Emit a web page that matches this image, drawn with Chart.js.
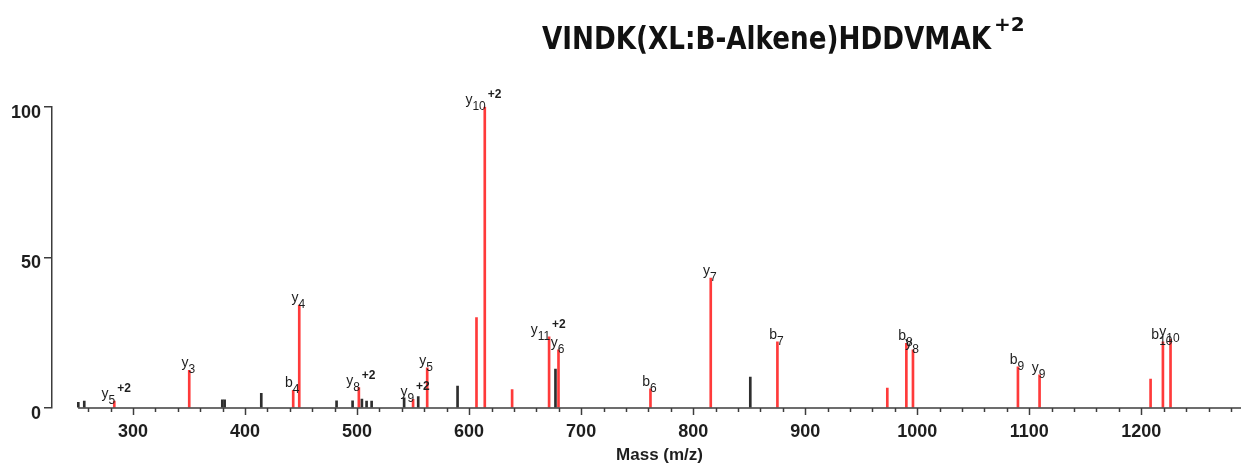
<!DOCTYPE html>
<html>
<head>
<meta charset="utf-8">
<script src="https://cdn.jsdelivr.net/npm/chart.js@4.4.1/dist/chart.umd.min.js"></script>
<style>
  html, body { margin: 0; padding: 0; background: #fff; }
  #wrap { width: 1241px; height: 464px; }
</style>
</head>
<body>
<div id="wrap"><canvas id="msChart" width="1241" height="464"></canvas></div>
<script>
// annotated fragment ions (red)
const ionMz        = [283.3, 350.2, 443.0, 448.4, 501.6, 550.0, 562.6, 606.6, 614.0, 638.4, 671.4, 679.8, 761.9, 815.7, 875.2, 973.3, 990.3, 996.2, 1089.9, 1109.2, 1208.3, 1219.3, 1226.1];
const ionIntensity = [2.3, 12.5, 5.9, 34.2, 6.8, 2.9, 13.3, 30.0, 100, 6.1, 23.6, 19.3, 6.4, 43.1, 22.0, 6.6, 21.5, 19.3, 13.7, 11.0, 9.6, 22.0, 22.8];
const ionType      = ['y', 'y', 'b', 'y', 'y', 'y', 'y', '', 'y', '', 'y', 'y', 'b', 'y', 'b', '', 'b', 'y', 'b', 'y', '', 'b', 'y'];
const ionNumber    = [5, 3, 4, 4, 8, 9, 5, 0, 10, 0, 11, 6, 6, 7, 7, 0, 8, 8, 9, 9, 0, 10, 10];
const ionCharge    = ['+2', '', '', '', '+2', '+2', '', '', '+2', '', '+2', '', '', '', '', '', '', '', '', '', '', '', ''];

// unassigned peaks (dark)
const otherMz        = [251.2, 256.5, 379.7, 381.8, 414.5, 481.7, 496.0, 504.3, 508.5, 513.0, 542.0, 554.6, 589.7, 677.1, 851.0];
const otherIntensity = [1.9, 2.3, 2.7, 2.7, 4.9, 2.4, 2.4, 3.0, 2.3, 2.3, 3.4, 3.8, 7.3, 12.9, 10.3];

// axes
const xTickLabels = [300, 400, 500, 600, 700, 800, 900, 1000, 1100, 1200];
const yTickLabels = [0, 50, 100];
const xAxisStart = 251;
const xMin = 227.7, xMax = 1289;
const xAxisTitle = 'Mass (m/z)';
const peptideTitle = 'VINDK(XL:B-Alkene)HDDVMAK';
const precursorCharge = '+2';

const RED = '#ff3a3a';
const DARK = '#2e2e2e';
const AXIS = '#3c3c3c';
const TEXT = '#1e1e1e';

// titel di atas
const titlePlugin = {
  id: 'peptideTitle',
  afterDraw(chart) {
    const ctx = chart.ctx;
    ctx.save();
    ctx.fillStyle = '#111';
    ctx.textBaseline = 'alphabetic';
    ctx.font = 'bold 32px "DejaVu Sans"';
    const w = ctx.measureText(peptideTitle).width;
    ctx.translate(542, 49);
    ctx.scale(449 / w, 1);
    ctx.fillText(peptideTitle, 0, 0);
    ctx.restore();
    ctx.save();
    ctx.fillStyle = '#111';
    ctx.font = 'bold 20px "DejaVu Sans"';
    ctx.fillText(precursorCharge, 994, 31);
    ctx.restore();
  }
};

// garis sumbu x, tick-nya, dan judul sumbu
const xAxisPlugin = {
  id: 'xAxisLine',
  afterDraw(chart) {
    const ctx = chart.ctx;
    const xs = chart.scales.x;
    const y0 = chart.chartArea.bottom;
    const xStart = xs.getPixelForValue(xAxisStart);
    ctx.save();
    ctx.strokeStyle = AXIS;
    ctx.lineWidth = 1.5;
    ctx.beginPath();
    ctx.moveTo(xStart, y0);
    ctx.lineTo(chart.chartArea.right, y0);
    ctx.stroke();
    xs.ticks.forEach(t => {
      const px = Math.round(xs.getPixelForValue(t.value)) + 0.5;
      const len = xTickLabels.includes(t.value) ? 7 : 4;
      ctx.beginPath();
      ctx.moveTo(px, y0);
      ctx.lineTo(px, y0 + len);
      ctx.stroke();
    });
    ctx.fillStyle = TEXT;
    ctx.font = 'bold 17px "Liberation Sans", Arial';
    ctx.textAlign = 'center';
    ctx.textBaseline = 'alphabetic';
    ctx.fillText(xAxisTitle, (xStart + chart.chartArea.right) / 2, 460);
    ctx.restore();
  }
};

// label ion (y10, b7, ...)
const peakLabelPlugin = {
  id: 'peakLabels',
  afterDatasetsDraw(chart) {
    const ctx = chart.ctx;
    const meta = chart.getDatasetMeta(0);
    ctx.save();
    ctx.fillStyle = TEXT;
    ctx.textBaseline = 'alphabetic';
    ctx.textAlign = 'left';
    meta.data.forEach((bar, i) => {
      const type = ionType[i];
      if (!type) return;
      const num = String(ionNumber[i]);
      const chg = ionCharge[i];
      const x = bar.x, top = bar.y;
      ctx.font = '14px "Liberation Sans", Arial';
      const wL = ctx.measureText(type).width;
      ctx.font = '12px "Liberation Sans", Arial';
      const wN = ctx.measureText(num).width;
      const w = wL + wN;
      const left = chg ? x + 1 - w : x - 1 - w / 2;
      ctx.font = '14px "Liberation Sans", Arial';
      ctx.fillText(type, left, top - 3);
      ctx.font = '12px "Liberation Sans", Arial';
      ctx.fillText(num, left + wL, top + 3);
      if (chg) {
        ctx.font = 'bold 12px "Liberation Sans", Arial';
        ctx.fillText(chg, x + 3, top - 9);
      }
    });
    ctx.restore();
  }
};

const ctx = document.getElementById('msChart').getContext('2d');
new Chart(ctx, {
  type: 'bar',
  data: {
    datasets: [
      {
        label: 'matched',
        data: ionMz.map((m, i) => ({ x: m, y: ionIntensity[i] })),
        backgroundColor: RED,
        barThickness: 2,
        grouped: false
      },
      {
        label: 'other',
        data: otherMz.map((m, i) => ({ x: m, y: otherIntensity[i] })),
        backgroundColor: DARK,
        barThickness: 2,
        grouped: false
      }
    ]
  },
  options: {
    responsive: false,
    animation: false,
    devicePixelRatio: 1,
    layout: { padding: { top: 106.7, left: 0, right: 0, bottom: 0 } },
    plugins: {
      legend: { display: false },
      tooltip: { enabled: false },
      title: { display: false }
    },
    scales: {
      x: {
        type: 'linear',
        min: xMin,
        max: xMax,
        offset: false,
        border: { display: false },
        grid: { display: true, drawOnChartArea: false, drawTicks: true, tickLength: 7, color: 'rgba(0,0,0,0)' },
        afterBuildTicks(scale) {
          const ticks = [];
          for (let v = 260; v <= 1280; v += 20) ticks.push({ value: v });
          scale.ticks = ticks;
        },
        afterFit(scale) { scale.height = 56; },
        ticks: {
          autoSkip: false,
          maxRotation: 0,
          padding: 6,
          color: TEXT,
          font: { family: '"Liberation Sans", Arial', size: 18, weight: 'bold' },
          callback: v => (xTickLabels.includes(v) ? String(v) : '')
        },
        title: { display: false }
      },
      y: {
        min: 0,
        max: 100,
        border: { display: true, color: AXIS, width: 1.5 },
        grid: { drawOnChartArea: false, drawTicks: true, tickLength: 8, color: AXIS, lineWidth: 1.5 },
        afterBuildTicks(scale) { scale.ticks = yTickLabels.map(v => ({ value: v })); },
        afterFit(scale) { scale.width = 52; },
        ticks: {
          padding: 3,
          labelOffset: 6,
          color: TEXT,
          font: { family: '"Liberation Sans", Arial', size: 18, weight: 'bold' }
        }
      }
    }
  },
  plugins: [titlePlugin, xAxisPlugin, peakLabelPlugin]
});
</script>
</body>
</html>
